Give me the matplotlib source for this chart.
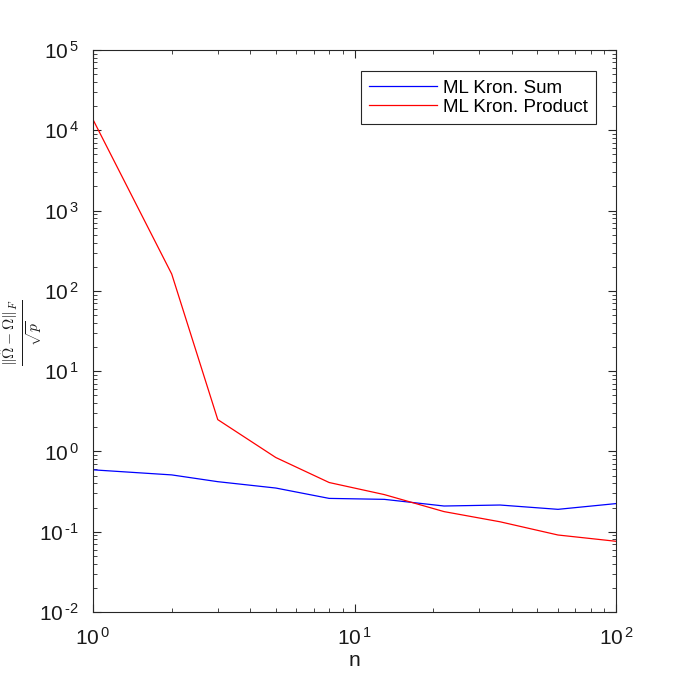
import matplotlib
matplotlib.use("Agg")
import matplotlib.pyplot as plt
from matplotlib.ticker import LogLocator, FixedLocator, FixedFormatter, NullFormatter

plt.rcParams['font.family'] = ['Liberation Sans', 'DejaVu Sans']
plt.rcParams['mathtext.fontset'] = 'custom'
plt.rcParams['mathtext.rm'] = 'Liberation Sans'
plt.rcParams['mathtext.it'] = 'Liberation Sans:italic'

n = [1, 2, 3, 5, 8, 13, 22, 36, 60, 100]
kron_sum = [0.59, 0.51, 0.42, 0.35, 0.26, 0.253, 0.209, 0.215, 0.19, 0.224]
kron_prod = [1.36e4, 162, 2.49, 0.84, 0.41, 0.29, 0.178, 0.133, 0.091, 0.076]

xticks = [1, 10, 100]
xticklabels = [r'$10^{\,0}$', r'$10^{\,1}$', r'$10^{\,2}$']
yticks = [1e-2, 1e-1, 1e0, 1e1, 1e2, 1e3, 1e4, 1e5]
yticklabels = [r'$10^{\,\text{-}2}$', r'$10^{\,\text{-}1}$', r'$10^{\,0}$', r'$10^{\,1}$',
               r'$10^{\,2}$', r'$10^{\,3}$', r'$10^{\,4}$', r'$10^{\,5}$']

fig = plt.figure(figsize=(6.82, 6.86), dpi=100)
ax = fig.add_axes([93/682, 74/686, 523/682, 562/686])

ax.plot(n, kron_sum, color='#0000ff', lw=0.9, label='ML Kron. Sum')
ax.plot(n, kron_prod, color='#ff0000', lw=0.9, label='ML Kron. Product')

ax.set_xscale('log')
ax.set_yscale('log')
ax.set_xlim(1, 100)
ax.set_ylim(1e-2, 1e5)

ax.xaxis.set_major_locator(FixedLocator(xticks))
ax.xaxis.set_major_formatter(FixedFormatter(xticklabels))
ax.yaxis.set_major_locator(FixedLocator(yticks))
ax.yaxis.set_major_formatter(FixedFormatter(yticklabels))
ax.xaxis.set_minor_locator(LogLocator(base=10, subs=range(2, 10), numticks=20))
ax.yaxis.set_minor_locator(LogLocator(base=10, subs=range(2, 10), numticks=20))
ax.xaxis.set_minor_formatter(NullFormatter())
ax.yaxis.set_minor_formatter(NullFormatter())

axcol = '#262626'
for s in ax.spines.values():
    s.set_color(axcol)
    s.set_linewidth(0.8)
ax.tick_params(which='both', direction='in', top=True, right=True, colors=axcol,
               labelcolor='#1a1a1a')
ax.tick_params(which='major', length=6, width=0.8, labelsize=15)
ax.tick_params(axis='x', which='major', pad=11)
ax.tick_params(axis='y', which='major', pad=10)
ax.tick_params(which='minor', length=3, width=0.6)

ax.set_xlabel('n', fontsize=15, color='#1a1a1a', labelpad=1)
fig.text(22/682, 1 - 333/686, r'$\frac{\|\hat{\Omega}-\Omega\|_F}{\sqrt{p}}$',
         fontsize=16, math_fontfamily='cm', color='#1a1a1a', rotation=90,
         ha='center', va='center')

leg = ax.legend(loc='upper right', fontsize=13.5, fancybox=False,
                framealpha=1, edgecolor=axcol, borderpad=0.45, labelspacing=0.1,
                handlelength=3.6, handletextpad=0.32, borderaxespad=0)
leg.get_frame().set_linewidth(0.8)
leg.set_bbox_to_anchor((596/682, 1 - 71/686), transform=fig.transFigure)

fig.savefig('out.png', dpi=100)
